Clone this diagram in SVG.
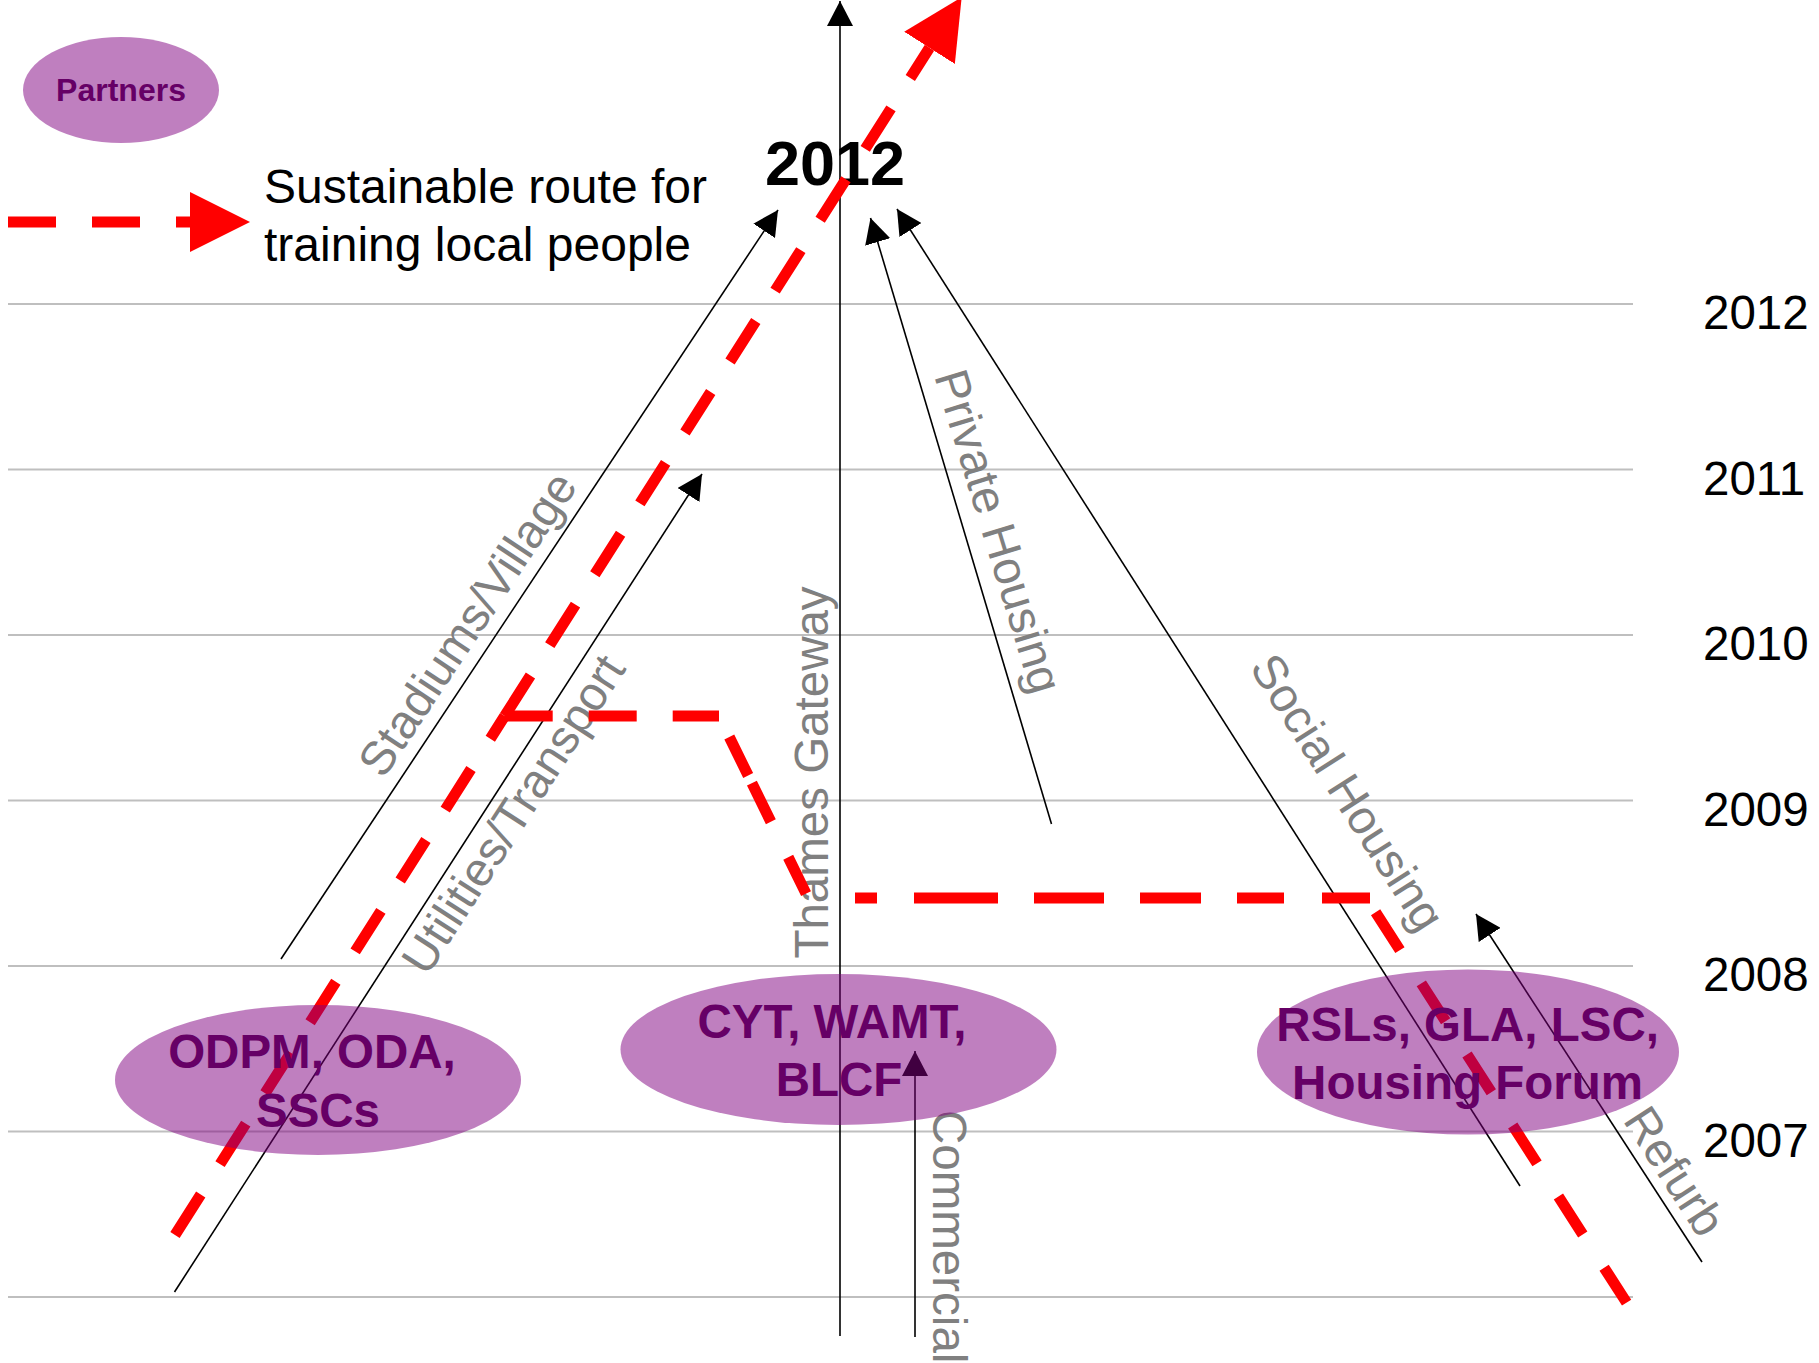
<svg xmlns="http://www.w3.org/2000/svg" width="1819" height="1363" viewBox="0 0 1819 1363">
<style>
text { font-family: "Liberation Sans", Arial, sans-serif; }
.grid { stroke: #BFBFBF; stroke-width: 2; }
.arr { stroke: #000; stroke-width: 1.6; fill: none; marker-end: url(#ah); }
.route { stroke: #FF0000; stroke-width: 11; fill: none; }
.dash { stroke-dasharray: 48 36; }
.blob { fill: #800080; fill-opacity: 0.5; }
.lbl { font-size: 47.5px; fill: #808080; }
.yr { font-size: 47.5px; fill: #000; }
.ptxt { font-size: 47.5px; font-weight: bold; fill: #660066; text-anchor: middle; }
</style>
<defs>
<marker id="ah" markerUnits="userSpaceOnUse" viewBox="0 0 25 26" markerWidth="25" markerHeight="26" refX="25" refY="13" orient="auto">
<path d="M0,0 L25,13 L0,26 z" fill="#000"/>
</marker>
<marker id="rh" markerUnits="userSpaceOnUse" viewBox="0 0 60 60" markerWidth="60" markerHeight="60" refX="0" refY="30" orient="auto">
<path d="M0,0 L60,30 L0,60 z" fill="#FF0000"/>
</marker>
</defs>
<rect width="1819" height="1363" fill="#FFFFFF"/>

<g id="gridlines">
<line class="grid" x1="8" y1="304" x2="1633" y2="304"/>
<line class="grid" x1="8" y1="469.5" x2="1633" y2="469.5"/>
<line class="grid" x1="8" y1="635" x2="1633" y2="635"/>
<line class="grid" x1="8" y1="800.5" x2="1633" y2="800.5"/>
<line class="grid" x1="8" y1="966" x2="1633" y2="966"/>
<line class="grid" x1="8" y1="1131.5" x2="1633" y2="1131.5"/>
<line class="grid" x1="8" y1="1297" x2="1633" y2="1297"/>
</g>

<g id="years">
<text class="yr" x="1703" y="329">2012</text>
<text class="yr" x="1703" y="494.5">2011</text>
<text class="yr" x="1703" y="660">2010</text>
<text class="yr" x="1703" y="825.5">2009</text>
<text class="yr" x="1703" y="991">2008</text>
<text class="yr" x="1703" y="1156.5">2007</text>
</g>

<g id="title-2012">
<text x="835" y="185" font-size="63" font-weight="bold" text-anchor="middle" fill="#000">2012</text>
</g>

<g id="legend">
<text x="264" y="203" font-size="48" fill="#000">Sustainable route for</text>
<text x="264" y="261" font-size="48" fill="#000">training local people</text>
</g>

<g id="labels">
<text class="lbl" text-anchor="middle" transform="translate(481,633) rotate(-56.4)">Stadiums/Village</text>
<text class="lbl" text-anchor="middle" transform="translate(527,823) rotate(-57.1)">Utilities/Transport</text>
<text class="lbl" text-anchor="middle" transform="translate(828,772.5) rotate(-90)">Thames Gateway</text>
<text class="lbl" text-anchor="middle" transform="translate(983,536) rotate(73)">Private Housing</text>
<text class="lbl" text-anchor="middle" transform="translate(1334,801) rotate(57.4)">Social Housing</text>
<text class="lbl" text-anchor="middle" transform="translate(1661,1180) rotate(57)">Refurb</text>
<text class="lbl" text-anchor="start" transform="translate(933,1110) rotate(90)">Commercial</text>
</g>

<g id="connectors">
<line id="thames" class="arr" x1="840" y1="1336" x2="840" y2="1"/>
<line id="stadiums" class="arr" x1="281" y1="959" x2="778" y2="210"/>
<line id="utilities" class="arr" x1="174.5" y1="1292" x2="702" y2="474"/>
<line id="private" class="arr" x1="1051.5" y1="824" x2="870.5" y2="218"/>
<line id="social" class="arr" x1="1520" y1="1186" x2="897" y2="209"/>
<line id="refurb" class="arr" x1="1702" y1="1262" x2="1476" y2="914"/>
<line id="commercial" class="arr" x1="915" y1="1337" x2="915" y2="1051"/>
</g>

<g id="route">
<line class="route dash" x1="8" y1="222" x2="190" y2="222" marker-end="url(#rh)"/>
<line class="route dash" x1="175" y1="1235" x2="504.7" y2="716"/>
<line class="route dash" x1="504.7" y1="716" x2="929.5" y2="47.8" marker-end="url(#rh)"/>
<line class="route dash" x1="504.7" y1="716" x2="719" y2="716"/>
<line class="route" x1="719" y1="716" x2="807.7" y2="897" stroke-dasharray="0 23.4 42.9 8.5 43 39.5 40.5 100"/>
<line class="route" x1="809" y1="898" x2="1370" y2="898" stroke-dasharray="0 46 22 37 84 36 70 36 61 36 47 38 48 20"/>
<line class="route" x1="1366.4" y1="898" x2="1626.6" y2="1302.6" stroke-dasharray="45 39.5" stroke-dashoffset="67.5"/>
</g>

<g id="partners-key">
<ellipse class="blob" cx="121" cy="90" rx="98" ry="53"/>
<text x="121" y="101" font-size="32" font-weight="bold" fill="#660066" text-anchor="middle">Partners</text>
</g>

<g id="odpm">
<ellipse class="blob" cx="318" cy="1080" rx="203" ry="75"/>
<text class="ptxt" x="312" y="1068">ODPM, ODA,</text>
<text class="ptxt" x="318" y="1127">SSCs</text>
</g>

<g id="cyt">
<ellipse class="blob" cx="838.5" cy="1049.5" rx="218" ry="75.5"/>
<text class="ptxt" x="832" y="1038">CYT, WAMT,</text>
<text class="ptxt" x="839" y="1096">BLCF</text>
</g>

<g id="rsls">
<ellipse class="blob" cx="1468" cy="1052" rx="211" ry="82.5"/>
<text class="ptxt" x="1467.6" y="1041">RSLs, GLA, LSC,</text>
<text class="ptxt" x="1467.6" y="1099">Housing Forum</text>
</g>
</svg>
